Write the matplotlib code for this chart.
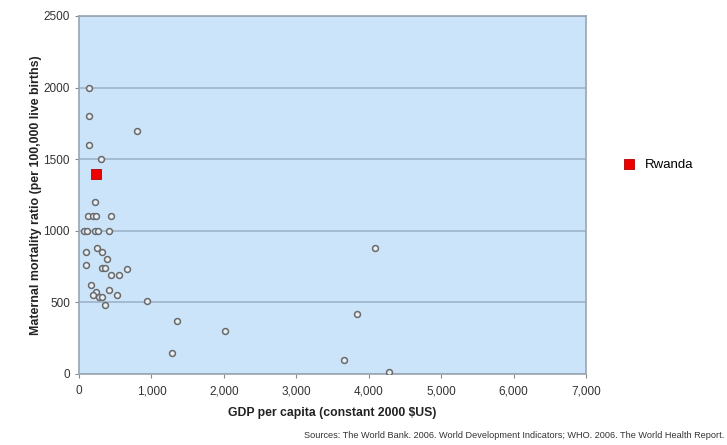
import matplotlib
matplotlib.use("Agg")
import matplotlib.pyplot as plt
from matplotlib.ticker import FuncFormatter

plt.rcParams['font.family'] = ['Liberation Sans', 'DejaVu Sans']

# GDP per capita (constant 2000 $US) vs maternal mortality ratio
gdp = [142, 142, 800, 142, 310, 225, 124, 198, 235, 446, 70, 106, 225, 262, 419,
       97, 244, 318, 391, 97, 318, 364, 658, 446, 557, 161, 419, 235, 198, 272,
       318, 529, 364, 935, 1349, 2012, 1280, 3655, 3845, 4080, 4274]
mmr = [2000, 1800, 1700, 1600, 1500, 1200, 1100, 1100, 1100, 1100, 1000, 1000, 1000, 1000, 1000,
       850, 880, 850, 800, 760, 740, 740, 735, 690, 690, 625, 590, 575, 550, 540,
       540, 550, 480, 510, 370, 300, 145, 95, 420, 880, 15]
rwanda_gdp = [240]
rwanda_mmr = [1400]

xticks = [0, 1000, 2000, 3000, 4000, 5000, 6000, 7000]
yticks = [0, 500, 1000, 1500, 2000, 2500]

fig = plt.figure(figsize=(7.27, 4.45), dpi=100)
ax = fig.add_axes([79 / 727, 1 - 374 / 445, (586 - 79) / 727, (374 - 16) / 445])
ax.set_facecolor('#cce4f9')

ax.set_xlim(0, 7000)
ax.set_ylim(0, 2500)
ax.set_xticks(xticks)
ax.set_yticks(yticks)
ax.xaxis.set_major_formatter(FuncFormatter(lambda v, p: f"{int(v):,}"))
ax.grid(axis='y', color='#9db3c9', linewidth=1.2)
ax.set_axisbelow(True)

for s in ax.spines.values():
    s.set_color('#9aa6b2')
    s.set_linewidth(1.2)
ax.tick_params(colors='#8a8a8a', labelcolor='#333333', labelsize=8.5, length=3)
ax.tick_params(axis='x', pad=5)

ax.scatter(gdp, mmr, s=18, facecolors='#e6eef6', edgecolors='#6a6a6a',
           linewidths=1.1, zorder=3)
ax.scatter(rwanda_gdp, rwanda_mmr, marker='s', s=55, color='#ee0000',
           edgecolors='#b00000', linewidths=0.6, zorder=4, label='Rwanda')

ax.set_xlabel('GDP per capita (constant 2000 $US)', fontsize=8.8, fontweight='bold',
              color='#222222', labelpad=7)
ax.set_ylabel('Maternal mortality ratio (per 100,000 live births)', fontsize=8.9,
              fontweight='bold', color='#222222', labelpad=1)

ax.legend(loc='center left', bbox_to_anchor=(1.035, 0.585), frameon=False,
          fontsize=9.5, handletextpad=0.2, markerscale=0.9)

fig.text(0.996, 0.012, 'Sources: The World Bank. 2006. World Development Indicators; '
         'WHO. 2006. The World Health Report.', ha='right', va='bottom',
         fontsize=6.6, color='#333333')

fig.savefig('out.png', dpi=100)
